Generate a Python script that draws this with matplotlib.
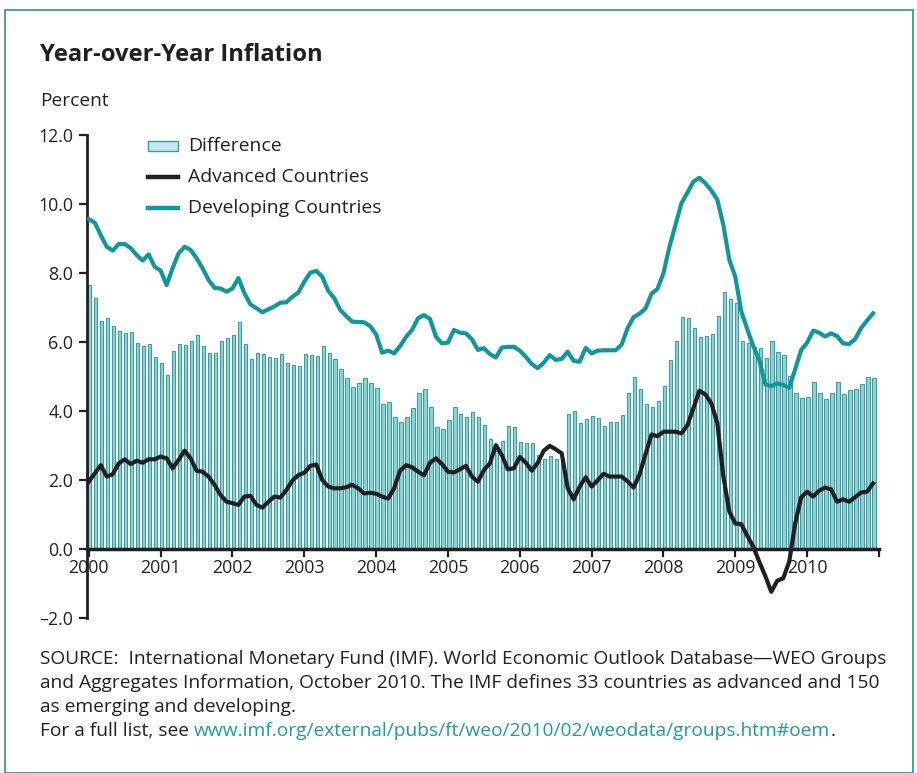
import matplotlib
matplotlib.use("Agg")
import matplotlib.pyplot as plt
from matplotlib.patches import Rectangle
from matplotlib.lines import Line2D
import numpy as np

plt.rcParams['font.family'] = ['Open Sans', 'DejaVu Sans']

# Monthly data, Jan 2000 .. Dec 2010 (132 months)
years = ['2000', '2001', '2002', '2003', '2004', '2005', '2006', '2007', '2008', '2009', '2010']

developing = [
    9.56, 9.46, 9.10, 8.76, 8.65, 8.84, 8.84, 8.72, 8.52, 8.36, 8.54, 8.18,
    8.07, 7.65, 8.14, 8.57, 8.76, 8.67, 8.43, 8.14, 7.80, 7.57, 7.55, 7.46,
    7.55, 7.85, 7.41, 7.09, 6.98, 6.86, 6.95, 7.03, 7.14, 7.15, 7.31, 7.43,
    7.75, 8.01, 8.06, 7.89, 7.48, 7.27, 6.93, 6.75, 6.59, 6.58, 6.57, 6.46,
    6.22, 5.69, 5.75, 5.67, 5.88, 6.15, 6.35, 6.69, 6.78, 6.67, 6.15, 5.96,
    5.98, 6.35, 6.27, 6.25, 6.08, 5.77, 5.82, 5.65, 5.55, 5.84, 5.86, 5.86,
    5.75, 5.57, 5.36, 5.24, 5.40, 5.62, 5.48, 5.51, 5.72, 5.45, 5.43, 5.83,
    5.67, 5.75, 5.76, 5.76, 5.76, 5.92, 6.40, 6.72, 6.82, 6.97, 7.40, 7.54,
    8.00, 8.76, 9.39, 10.02, 10.33, 10.65, 10.76, 10.60, 10.39, 10.12, 9.39, 8.38,
    7.89, 6.88, 6.37, 5.88, 5.48, 4.78, 4.72, 4.80, 4.76, 4.67, 5.21, 5.77,
    5.98, 6.33, 6.27, 6.16, 6.25, 6.17, 5.96, 5.94, 6.08, 6.40, 6.62, 6.83,
]

advanced = [
    1.95, 2.19, 2.43, 2.10, 2.17, 2.48, 2.60, 2.46, 2.56, 2.50, 2.60, 2.60,
    2.68, 2.63, 2.34, 2.58, 2.85, 2.63, 2.27, 2.24, 2.10, 1.86, 1.57, 1.37,
    1.33, 1.28, 1.52, 1.54, 1.28, 1.20, 1.37, 1.52, 1.49, 1.71, 1.98, 2.14,
    2.21, 2.41, 2.45, 2.00, 1.81, 1.76, 1.76, 1.79, 1.86, 1.76, 1.61, 1.63,
    1.60, 1.52, 1.46, 1.76, 2.27, 2.43, 2.37, 2.24, 2.14, 2.50, 2.63, 2.46,
    2.24, 2.22, 2.31, 2.41, 2.10, 1.95, 2.29, 2.48, 3.01, 2.72, 2.31, 2.34,
    2.67, 2.50, 2.27, 2.50, 2.85, 2.99, 2.89, 2.77, 1.76, 1.44, 1.81, 2.08,
    1.81, 1.99, 2.18, 2.10, 2.10, 2.10, 1.96, 1.78, 2.16, 2.75, 3.32, 3.27,
    3.40, 3.40, 3.40, 3.35, 3.59, 4.08, 4.59, 4.48, 4.22, 3.64, 2.10, 1.08,
    0.74, 0.72, 0.38, 0.07, -0.37, -0.78, -1.24, -0.92, -0.85, -0.37, 0.74, 1.50,
    1.66, 1.52, 1.69, 1.78, 1.73, 1.37, 1.44, 1.37, 1.50, 1.64, 1.66, 1.90,
]

difference = [
    7.64, 7.28, 6.61, 6.69, 6.46, 6.31, 6.25, 6.29, 5.98, 5.88, 5.94, 5.56,
    5.38, 5.03, 5.73, 5.94, 5.90, 6.04, 6.19, 5.88, 5.69, 5.69, 6.04, 6.12,
    6.20, 6.58, 5.94, 5.52, 5.67, 5.66, 5.57, 5.53, 5.66, 5.40, 5.34, 5.31,
    5.64, 5.63, 5.59, 5.89, 5.67, 5.50, 5.21, 4.97, 4.69, 4.80, 4.95, 4.80,
    4.67, 4.19, 4.27, 3.84, 3.67, 3.82, 4.09, 4.51, 4.63, 4.13, 3.53, 3.48,
    3.73, 4.12, 3.90, 3.83, 3.96, 3.83, 3.58, 3.18, 2.83, 3.13, 3.56, 3.53,
    3.09, 3.07, 3.06, 2.72, 2.60, 2.69, 2.61, 2.65, 3.92, 4.01, 3.64, 3.77,
    3.86, 3.79, 3.57, 3.67, 3.67, 3.87, 4.51, 4.98, 4.63, 4.21, 4.11, 4.29,
    4.73, 5.47, 6.02, 6.72, 6.69, 6.40, 6.14, 6.16, 6.22, 6.74, 7.44, 7.25,
    7.12, 6.03, 5.96, 5.85, 5.84, 5.53, 6.03, 5.72, 5.61, 5.01, 4.51, 4.39,
    4.41, 4.85, 4.53, 4.36, 4.51, 4.84, 4.49, 4.61, 4.65, 4.77, 4.99, 4.96,
]

ytick_values = [-2, 0, 2, 4, 6, 8, 10, 12]
ytick_labels = ['\u20132.0', '0.0', '2.0', '4.0', '6.0', '8.0', '10.0', '12.0']
legend_labels = ['Difference', 'Advanced Countries', 'Developing Countries']

TEAL = '#0f979e'
BLACK = '#231f20'
BAR_FACE = '#8fd0d4'
BAR_EDGE = '#2aa0a6'
TEXT = '#231f20'

W, H = 917, 773
fig = plt.figure(figsize=(W / 100, H / 100), dpi=100)
renderer = fig.canvas.get_renderer()


def fitted_size(text, target_px, weight='normal', base=12.0):
    t = fig.text(0, 0, text, fontsize=base, fontweight=weight)
    w = t.get_window_extent(renderer=renderer).width
    t.remove()
    return base * target_px / w


def ftext(x_px, y_px, s, **kw):
    return fig.text(x_px / W, 1 - y_px / H, s, **kw)


# frame border
fig.patches.append(Rectangle((5 / W, 0), (913 - 5) / W, (H - 10) / H, transform=fig.transFigure,
                             fill=False, edgecolor='#2f8f96', linewidth=1.2))

ax = fig.add_axes([87 / W, (H - 618) / H, (879 - 87) / W, (618 - 135) / H])

n = len(difference)
months = np.arange(n)
ax.bar(months + 0.15, difference, width=0.55, color=BAR_FACE, edgecolor=BAR_EDGE,
       linewidth=0.7, zorder=2)
ax.plot(months, advanced, color=BLACK, linewidth=3.0, solid_joinstyle='round', zorder=4)
ax.plot(months, developing, color=TEAL, linewidth=3.0, solid_joinstyle='round', zorder=4)

ax.set_xlim(-0.3, n)
ax.set_ylim(-2, 12)

for s in ['top', 'right']:
    ax.spines[s].set_visible(False)
ax.spines['left'].set_linewidth(2.0)
ax.spines['left'].set_color(BLACK)
ax.spines['bottom'].set_position(('data', 0))
ax.spines['bottom'].set_linewidth(2.5)
ax.spines['bottom'].set_color(BLACK)
ax.spines['bottom'].set_zorder(5)

tick_fs = fitted_size('12.0', 35)
ax.set_yticks(ytick_values)
ax.set_yticklabels(ytick_labels)
xt = list(range(0, n + 1, 12))
ax.set_xticks(xt)
ax.set_xticklabels(years + [''])
ax.tick_params(axis='both', direction='out', length=6, width=1.6, color=BLACK,
               labelsize=tick_fs, labelcolor=TEXT)
ax.tick_params(axis='x', pad=1)
ax.tick_params(axis='y', pad=4)
ax.set_facecolor('none')

# legend (manual placement)
leg_fs = fitted_size('Developing Countries', 193)
rows_y = [146, 177, 208]
fig.patches.append(Rectangle((148 / W, 1 - 151 / H), 30 / W, 10 / H, transform=fig.transFigure,
                             facecolor='#c8e7ea', edgecolor=BAR_EDGE, linewidth=1.0))
fig.lines.append(Line2D([148 / W, 178 / W], [1 - 177 / H] * 2, transform=fig.transFigure,
                        color=BLACK, linewidth=3.2))
fig.lines.append(Line2D([148 / W, 178 / W], [1 - 208 / H] * 2, transform=fig.transFigure,
                        color=TEAL, linewidth=3.2))
for lab, yy in zip(legend_labels, rows_y):
    ftext(188, yy, lab, fontsize=leg_fs, color=TEXT, va='center', ha='left')

title_fs = fitted_size('Year-over-Year Inflation', 282, weight='bold')
ftext(40, 55, 'Year-over-Year Inflation', fontsize=title_fs, fontweight='bold',
      color=TEXT, va='center', ha='left')
ftext(40, 101, 'Percent', fontsize=fitted_size('Percent', 68), color=TEXT, va='center', ha='left')

src_lines = [
    'SOURCE:  International Monetary Fund (IMF). World Economic Outlook Database\u2014WEO Groups',
    'and Aggregates Information, October 2010. The IMF defines 33 countries as advanced and 150',
    'as emerging and developing.',
]
src_fs = fitted_size(src_lines[0], 842)
for k, line in enumerate(src_lines):
    ftext(40, 659 + 24 * k, line, fontsize=src_fs, color=TEXT, va='center', ha='left')

t1 = ftext(40, 731, 'For a full list, see ', fontsize=src_fs, color=TEXT, va='center', ha='left')
x1 = t1.get_window_extent(renderer=renderer).x1
t2 = fig.text(x1 / W, 1 - 731 / H,
              'www.imf.org/external/pubs/ft/weo/2010/02/weodata/groups.htm#oem',
              fontsize=src_fs, color='#1a9ca3', va='center', ha='left')
x2 = t2.get_window_extent(renderer=renderer).x1
fig.text(x2 / W, 1 - 731 / H, '.', fontsize=src_fs, color=TEXT, va='center', ha='left')

fig.savefig('out.png', dpi=100)
